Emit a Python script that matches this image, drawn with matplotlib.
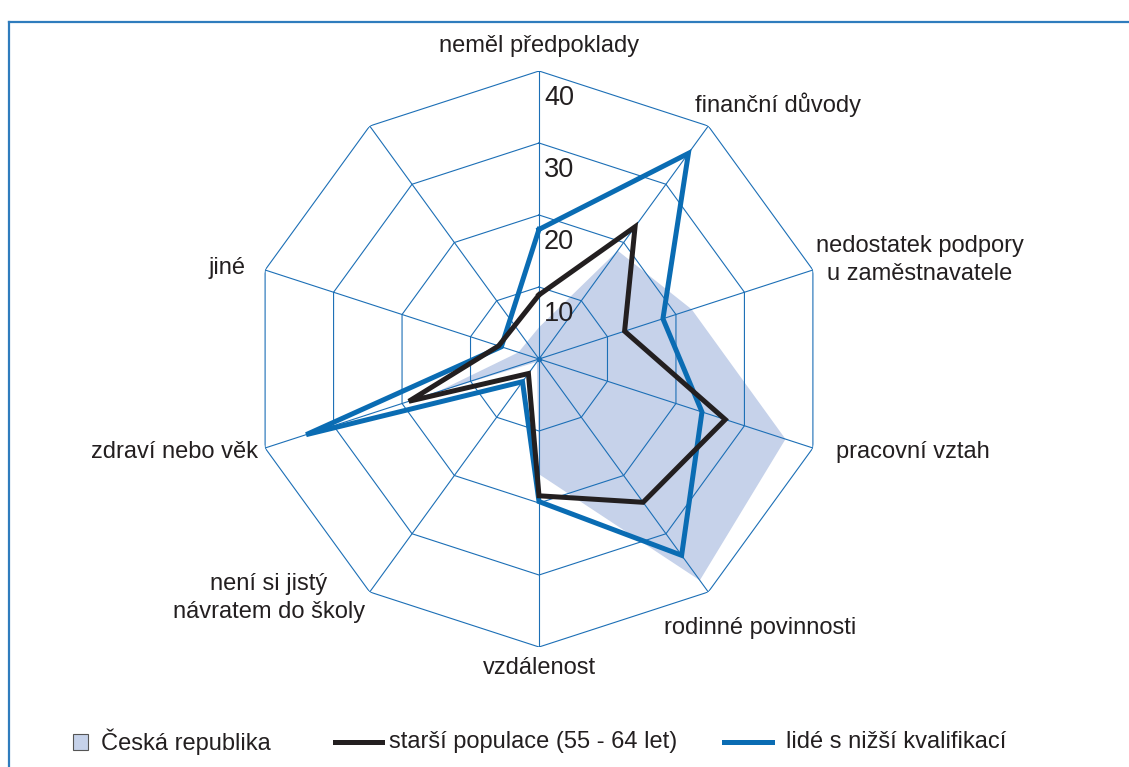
import numpy as np
import matplotlib
matplotlib.use("Agg")
import matplotlib.pyplot as plt
from matplotlib.lines import Line2D
from matplotlib.patches import Rectangle

plt.rcParams['font.family'] = ['Liberation Sans', 'DejaVu Sans']

# categories, clockwise from the top; the last axis has no label and no data
categories = ['neměl předpoklady', 'finanční důvody', 'nedostatek podpory\nu zaměstnavatele',
              'pracovní vztah', 'rodinné povinnosti', 'vzdálenost',
              'není si jistý\nnávratem do školy', 'zdraví nebo věk', 'jiné', '']
ceska_republika = [4.4, 18.6, 22.3, 36.0, 38.0, 16.0, 0.5, 15.0, 3.0, np.nan]
starsi_populace = [8.9, 22.7, 12.5, 27.2, 24.6, 19.0, 2.5, 19.0, 5.9, np.nan]
nizsi_kvalifikace = [18.0, 35.3, 18.1, 23.8, 33.7, 19.8, 3.9, 34.0, 5.5, np.nan]
ring_values = [10, 20, 30, 40]
series_names = ['Česká republika', 'starší populace (55 - 64 let)', 'lidé s nižší kvalifikací']

GRID = '#1c6fb6'
BLUE = '#0a6cb3'
BLACK = '#231f20'
FILL = '#c6d2ea'
FRAME = '#2f7cbd'

W, H = 1129, 767
fig = plt.figure(figsize=(W / 100, H / 100), dpi=100)

# polar axes centred at (539, 359) px with radius 288 px
cx, cy, R = 539, 359, 288
ax = fig.add_axes([(cx - R) / W, (H - cy - R) / H, 2 * R / W, 2 * R / H], projection='polar')
ax.set_theta_zero_location('N')
ax.set_theta_direction(-1)
ax.set_ylim(0, 40)
ax.grid(False)
ax.spines['polar'].set_visible(False)
ax.set_xticks([])
ax.set_yticks([])
ax.patch.set_alpha(0)

n = len(categories)
angles = np.arange(n) * 2 * np.pi / n


def closed(vals):
    # drop the empty axis and close the polygon
    a = [angles[i] for i in range(n) if not np.isnan(vals[i])]
    v = [vals[i] for i in range(n) if not np.isnan(vals[i])]
    return a + a[:1], v + v[:1]


a, v = closed(ceska_republika)
ax.fill(a, v, color=FILL, lw=0, zorder=1)

# decagon grid
for r in ring_values:
    ax.plot(list(angles) + [angles[0]], [r] * (n + 1), color=GRID, lw=0.8, zorder=2)
for ang in angles:
    ax.plot([ang, ang], [0, ring_values[-1]], color=GRID, lw=0.8, zorder=2)
ax.plot([0], [0], 'o', color=GRID, ms=3, zorder=2)

a, v = closed(nizsi_kvalifikace)
ax.plot(a, v, color=BLUE, lw=3.6, zorder=3, solid_joinstyle='miter')
a, v = closed(starsi_populace)
ax.plot(a, v, color=BLACK, lw=3.6, zorder=4, solid_joinstyle='miter')

# radial labels next to the top axis
for r in ring_values:
    ax.annotate(str(r), (0, r), xytext=(5, -27), textcoords='offset pixels',
                ha='left', va='center', fontsize=19.5, color=BLACK, zorder=5)

# category labels: offsets from the outer vertex, in pixels
label_layout = [((0, 25), 'center'), ((-13, 21), 'left'), ((3, 10), 'left'),
                ((23, -4), 'left'), ((-44, -36), 'left'), ((0, -21), 'center'),
                ((-5, -6), 'right'), ((-7, -4), 'right'), ((-20, 2), 'right')]
for i, (off, ha) in enumerate(label_layout):
    ax.annotate(categories[i], (angles[i], ring_values[-1]), xytext=off,
                textcoords='offset pixels', ha=ha, va='center', multialignment='center',
                fontsize=17, color=BLACK, linespacing=1.3, annotation_clip=False)

# frame
fig.add_artist(Line2D([9 / W, 9 / W], [0, 1 - 22 / H], color=FRAME, lw=1.6))
fig.add_artist(Line2D([9 / W, 1], [1 - 22 / H, 1 - 22 / H], color=FRAME, lw=1.6))

# legend
ly = 1 - 742 / H
fig.add_artist(Rectangle((73 / W, ly - 8 / H), 15 / W, 16 / H, facecolor=FILL,
                         edgecolor='#555555', lw=0.8))
fig.text(101 / W, ly, series_names[0], ha='left', va='center', fontsize=17, color=BLACK)
fig.add_artist(Line2D([335 / W, 382 / W], [ly, ly], color=BLACK, lw=3.6))
fig.text(389 / W, ly, series_names[1], ha='left', va='center', fontsize=17, color=BLACK)
fig.add_artist(Line2D([724 / W, 772 / W], [ly, ly], color=BLUE, lw=3.6))
fig.text(786 / W, ly, series_names[2], ha='left', va='center', fontsize=17, color=BLACK)

fig.savefig('out.png', dpi=100)
